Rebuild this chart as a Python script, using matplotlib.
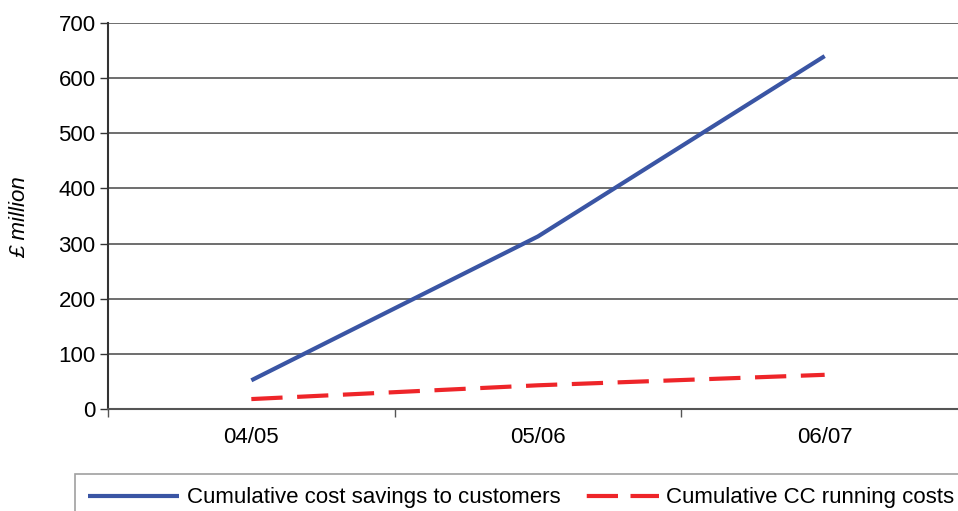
import matplotlib
matplotlib.use("Agg")
import matplotlib.pyplot as plt
from matplotlib.lines import Line2D

categories = ["04/05", "05/06", "06/07"]
savings = [52, 313, 640]
running_costs = [18, 43, 62]
series_names = ["Cumulative cost savings to customers", "Cumulative CC running costs"]
y_ticks = [0, 100, 200, 300, 400, 500, 600, 700]

plt.rcParams['font.family'] = ['Liberation Sans', 'DejaVu Sans']

W, H = 958, 511
fig = plt.figure(figsize=(W/100, H/100), dpi=100)
ax = fig.add_axes([108/W, 1-409/H, (968-108)/W, (409-23)/H])

blue = "#3a55a4"
red = "#ee2529"
x = list(range(len(categories)))
l1, = ax.plot(x, savings, color=blue, lw=3.0, solid_capstyle='butt')
l2, = ax.plot(x, running_costs, color=red, lw=3.0, dashes=(7.5, 3.5), dash_capstyle='butt')

ax.set_xlim(-0.5, 2.5)
ax.set_ylim(0, 700)
ax.set_yticks(y_ticks)
ax.set_xticks(x)
ax.set_xticklabels(categories)
ax.set_xticks([-0.5, 0.5, 1.5, 2.5], minor=True)
ax.tick_params(axis='x', which='major', length=0, pad=13, labelsize=16)
ax.tick_params(axis='x', which='minor', length=6, width=1, color="#555555")
ax.tick_params(axis='y', length=6, width=1, color="#333333", labelsize=16, pad=3)
ax.yaxis.grid(True, color="#555555", lw=1.2)
ax.set_axisbelow(True)
for s in ['top', 'right']:
    ax.spines[s].set_visible(False)
ax.spines['left'].set_color("#333333")
ax.spines['left'].set_linewidth(1.5)
ax.spines['bottom'].set_color("#555555")
ax.spines['bottom'].set_linewidth(1.5)

fig.text(20/W, 1-217/H, "£ million", rotation=90, style='italic', fontsize=16,
         ha='center', va='center')

red_proxy = Line2D([], [], color=red, lw=3.0, dash_capstyle='butt',
                   linestyle=(18, (7.5, 3, 7.5, 4.5)))

leg = fig.legend([l1, red_proxy], series_names, loc='upper left',
                 bbox_to_anchor=(75/W, 1-474/H), ncol=2, fontsize=16,
                 frameon=True, fancybox=False, edgecolor="#888888",
                 handlelength=4.1, handletextpad=0.35, columnspacing=0.3,
                 borderpad=0.6, borderaxespad=0)
leg.get_frame().set_linewidth(1.2)

fig.savefig("out.png", dpi=100)
